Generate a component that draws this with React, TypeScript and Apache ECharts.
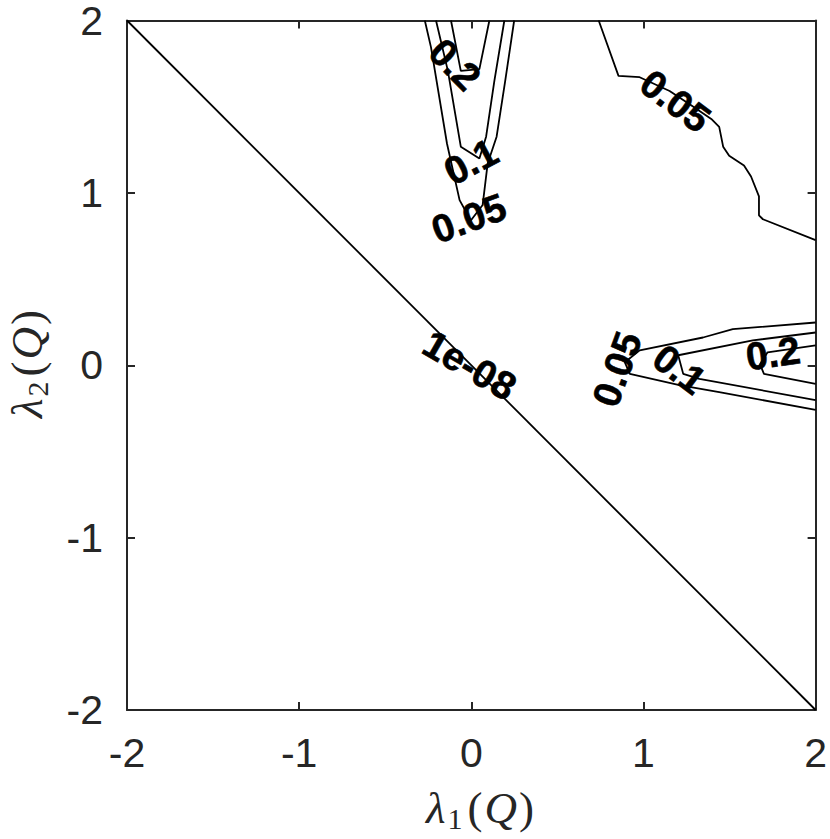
import React, { useEffect, useRef } from 'react';
import * as echarts from 'echarts';

// axis ticks
const xTicks = [-2, -1, 0, 1, 2];
const yTicks = [-2, -1, 0, 1, 2];

// contour lines, [lambda1, lambda2] pairs
const c1e08Diag = [[-2, 2], [2, -2]];
const c005TopLeft = [[-0.27, 2], [-0.234, 1.844], [-0.141, 1.285], [-0.068, 0.958], [-0.003, 0.84], [0.066, 0.93], [0.095, 1.17], [0.147, 1.326], [0.197, 1.65], [0.249, 2]];
const c01TopLeft = [[-0.205, 2], [-0.136, 1.708], [-0.061, 1.268], [0.047, 1.199], [0.086, 1.326], [0.134, 1.65], [0.192, 2]];
const c02TopLeft = [[-0.118, 2], [-0.061, 1.708], [0.047, 1.718], [0.105, 2]];
const c005TopRight = [[0.74, 2], [0.855, 1.679], [0.978, 1.671], [1.152, 1.591], [1.29, 1.499], [1.394, 1.429], [1.44, 1.383], [1.463, 1.268], [1.498, 1.216], [1.584, 1.159], [1.625, 1.095], [1.671, 0.98], [1.671, 0.87], [1.694, 0.847], [2, 0.726]];
const c005Right = [[2, 0.248], [1.519, 0.209], [1.346, 0.161], [0.978, 0.0865], [0.892, 0.017], [0.921, -0.05], [1.209, -0.115], [1.44, -0.156], [2, -0.259]];
const c01Right = [[2, 0.19], [1.635, 0.144], [1.202, 0.058], [1.231, -0.05], [1.325, -0.079], [2, -0.202]];
const c02Right = [[2, 0.115], [1.721, 0.075], [1.677, 0.006], [1.7, -0.05], [2, -0.108]];

const contours = [c1e08Diag, c005TopLeft, c01TopLeft, c02TopLeft, c005TopRight, c005Right, c01Right, c02Right];

// contour labels
const labelText = ['1e-08', '0.2', '0.1', '0.05', '0.05', '0.05', '0.1', '0.2'];
const labelX = [-0.009, -0.095, -0.003, -0.014, 1.186, 0.846, 1.209, 1.752];
const labelY = [0.0, 1.746, 1.182, 0.853, 1.533, -0.023, -0.023, 0.069];
const labelAngle = [-30, -45, 28, 20, -37, 70, -37, 8];

export default function App() {
  const ref = useRef<HTMLDivElement>(null);
  useEffect(() => {
    const chart = echarts.init(ref.current!, null, { renderer: 'svg' });
    const axisColor = '#262626';
    const tickFont = { color: axisColor, fontSize: 41, lineHeight: 30, fontFamily: 'Liberation Sans' };
    const baseAxis = (pos: string, showLabel: boolean, isX: boolean) => ({
      type: 'value',
      min: -2,
      max: 2,
      interval: 1,
      position: pos,
      axisLine: { show: true, onZero: false, lineStyle: { color: axisColor, width: 2 } },
      axisTick: { show: true, inside: true, length: 8, lineStyle: { color: axisColor, width: 2 } },
      axisLabel: {
        show: showLabel,
        ...tickFont,
        margin: isX ? 28 : 24,
        formatter: (v: number) => {
          const arr = isX ? xTicks : yTicks;
          return arr.includes(v) ? String(v) : '';
        },
      },
      splitLine: { show: false },
    });
    const rich = {
      i: { fontFamily: 'Liberation Serif', fontStyle: 'italic', fontSize: 45, lineHeight: 50, fill: '#262626' },
      n: { fontFamily: 'Liberation Serif', fontSize: 45, lineHeight: 50, fill: '#262626', padding: [0, 2, 0, 2] },
      s: { fontFamily: 'Liberation Serif', fontSize: 30, lineHeight: 30, verticalAlign: 'bottom', fill: '#262626', padding: [0, 3, 0, 2] },
    };
    chart.setOption({
      animation: false,
      grid: { left: 127, right: 10, top: 16, bottom: 129, containLabel: false },
      xAxis: [baseAxis('bottom', true, true), baseAxis('top', false, true)],
      yAxis: [baseAxis('left', true, false), baseAxis('right', false, false)],
      series: [
        ...contours.map((c) => ({
          type: 'line',
          data: c,
          xAxisIndex: 0,
          yAxisIndex: 0,
          symbol: 'none',
          showSymbol: false,
          silent: true,
          lineStyle: { color: '#000', width: 1.8 },
          z: 2,
        })),
        {
          type: 'scatter',
          xAxisIndex: 0,
          yAxisIndex: 0,
          symbolSize: 0,
          silent: true,
          z: 5,
          itemStyle: { opacity: 1, color: '#000' },
          data: labelText.map((t, k) => ({
            name: t,
            value: [labelX[k], labelY[k]],
            label: { rotate: labelAngle[k] },
          })),
          label: {
            show: true,
            position: 'inside',
            formatter: '{b}',
            color: '#000',
            opacity: 1,
            fontSize: 39,
            fontWeight: 'bold',
            fontFamily: 'Liberation Sans',
            textBorderColor: '#000',
            textBorderWidth: 0.6,
          },
        },
      ],
      graphic: [
        {
          type: 'text',
          x: 481,
          y: 808,
          style: { text: '{i|λ}{s|1}{n|(}{i|Q}{n|)}', rich, align: 'center', verticalAlign: 'middle' },
        },
        {
          type: 'text',
          x: 27,
          y: 363,
          rotation: Math.PI / 2,
          style: { text: '{i|λ}{s|2}{n|(}{i|Q}{n|)}', rich, align: 'center', verticalAlign: 'middle' },
        },
      ],
    });
    return () => chart.dispose();
  }, []);
  return <div ref={ref} style={{ position: 'absolute', left: 0, top: 0, width: 830, height: 839 }} />;
}
